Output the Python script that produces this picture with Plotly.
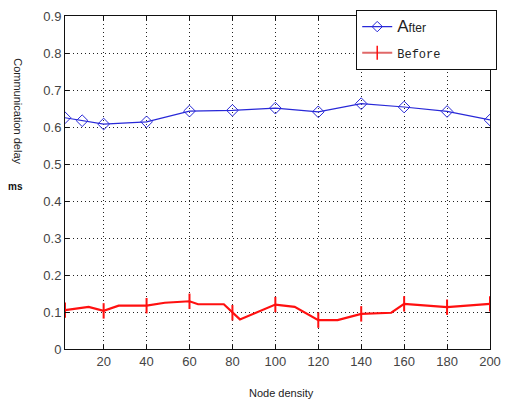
import plotly.graph_objects as go

# Data
x_after = [2, 10, 20, 40, 60, 80, 100, 120, 140, 160, 180, 200]
after = [0.625, 0.617, 0.608, 0.614, 0.643, 0.645, 0.651, 0.641, 0.663, 0.654, 0.642, 0.619]

x_before_line = [2, 13, 20, 27, 40, 48.5, 60, 64, 76, 80, 83.5, 100, 109, 120, 129, 140, 154, 160, 180, 200]
before_line = [0.105, 0.114, 0.103, 0.117, 0.117, 0.125, 0.129, 0.121, 0.121, 0.098, 0.080,
               0.120, 0.114, 0.078, 0.078, 0.095, 0.098, 0.122, 0.113, 0.122]
x_before_markers = [2, 20, 40, 60, 80, 100, 120, 140, 160, 180, 200]
_lookup = dict(zip(x_before_line, before_line))
before_markers = [_lookup[x] for x in x_before_markers]

x_ticks = [20, 40, 60, 80, 100, 120, 140, 160, 180, 200]
y_ticks = [0, 0.1, 0.2, 0.3, 0.4, 0.5, 0.6, 0.7, 0.8, 0.9]
y_tick_labels = ["0", "0.1", "0.2", "0.3", "0.4", "0.5", "0.6", "0.7", "0.8", "0.9"]

BLUE = "#2828d8"
RED = "#ff1010"

fig = go.Figure()

fig.add_trace(go.Scatter(
    x=x_after, y=after, mode="lines+markers", showlegend=False,
    line=dict(color=BLUE, width=1.2),
    marker=dict(symbol="diamond-open", size=9, color=BLUE, line=dict(width=1, color=BLUE)),
))
fig.add_trace(go.Scatter(
    x=x_before_line, y=before_line, mode="lines", showlegend=False,
    line=dict(color=RED, width=2.2),
))
fig.add_trace(go.Scatter(
    x=x_before_markers, y=before_markers, mode="markers", showlegend=False,
    marker=dict(symbol="line-ns", size=11, color=RED, line=dict(width=2, color=RED)),
))

# legend entries
fig.add_trace(go.Scatter(
    x=[None], y=[None], mode="lines+markers", legendgroup="a",
    name="<span style='font-size:17px'>A</span><span style='font-size:12px'>fter</span>",
    line=dict(color=BLUE, width=1.2),
    marker=dict(symbol="diamond-open", size=8, color=BLUE, line=dict(width=1, color=BLUE)),
))
fig.add_trace(go.Scatter(
    x=[None], y=[None], mode="lines+markers", legendgroup="b",
    name="<span style='font-family:Liberation Mono;font-size:12px'>Before</span>&nbsp;&nbsp;&nbsp;&nbsp;&nbsp;&nbsp;&nbsp;&nbsp;&nbsp;&nbsp;&nbsp;&nbsp;&nbsp;",
    line=dict(color="#e06868", width=2),
    marker=dict(symbol="line-ns", size=10, color=RED, line=dict(width=1.5, color=RED)),
))

axis_common = dict(
    showline=True, linecolor="#111", linewidth=1, mirror="ticks",
    ticks="inside", ticklen=4, tickcolor="#111",
    showgrid=True, gridcolor="#222", griddash="1px,3px", gridwidth=1,
    zeroline=False,
    tickfont=dict(family="Liberation Sans", size=13, color="#444"),
)

fig.update_xaxes(range=[2, 200], tickvals=x_ticks, **axis_common)
fig.update_yaxes(range=[0, 0.9], tickvals=y_ticks, ticktext=y_tick_labels, **axis_common)

fig.update_layout(
    width=510, height=404,
    margin=dict(l=65, r=13, t=9, b=55),
    plot_bgcolor="white", paper_bgcolor="white",
    legend=dict(
        x=1.017, y=1.018, xanchor="right", yanchor="top",
        bordercolor="#111", borderwidth=1, bgcolor="white",
        font=dict(family="Liberation Sans", size=14, color="#222"),
        tracegroupgap=5,
    ),
    annotations=[
        dict(text="Communication delay", x=17, y=106, showarrow=False, textangle=90,
             font=dict(family="Liberation Sans", size=11, color="#222")),
        dict(text="<b>ms</b>", x=15, y=183, showarrow=False,
             font=dict(family="Liberation Sans", size=10, color="#111")),
        dict(text="Node density", x=285, y=394, showarrow=False,
             font=dict(family="Liberation Sans", size=11, color="#222")),
    ],
)

# place annotations in pixel coordinates of the figure
W, H = 510, 404
l, r, t, b = 65, 13, 9, 55
pw, ph = W - l - r, H - t - b
new_ann = []
for a in fig.layout.annotations:
    px, py = a.x, a.y
    a.update(xref="paper", yref="paper", x=(px - l) / pw, y=1 - (py - t) / ph,
             xanchor="center", yanchor="middle")
    new_ann.append(a)
fig.layout.annotations = new_ann

fig.write_html("out.html")
